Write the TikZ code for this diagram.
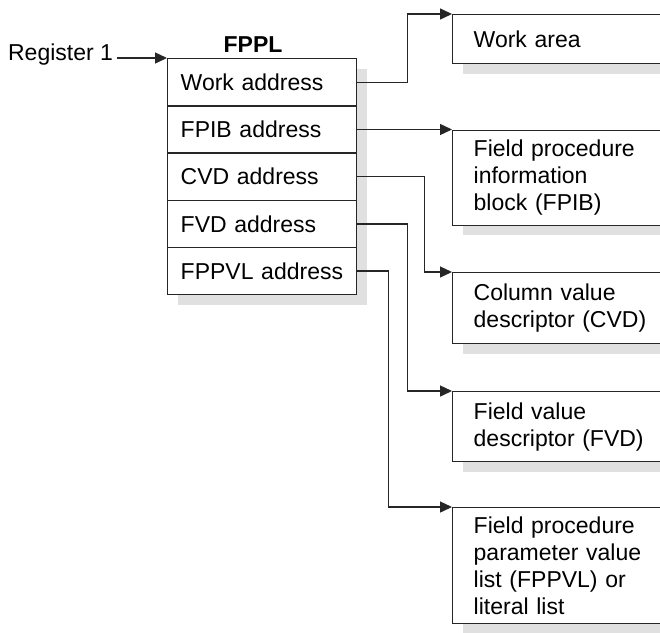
\documentclass[tikz,border=0pt]{standalone}
\usepackage{fontspec}
\setmainfont{Liberation Sans}
\usetikzlibrary{arrows.meta,shadows}
\begin{document}
\begin{tikzpicture}[x=1pt,y=-1pt,
  font=\fontsize{23}{27}\selectfont,
  line width=1.4pt,
  lc/.style={draw=black!85},
  shad/.style={drop shadow={shadow xshift=10pt,shadow yshift=-10pt,fill=black!12,opacity=1}},
  rowbox/.style={lc,fill=white,shad,rectangle,anchor=north west,minimum width=189pt,minimum height=47.2pt,
    text width=163pt,inner xsep=13pt,inner ysep=0pt,align=left},
  rbox/.style={lc,fill=white,shad,rectangle,anchor=north west,minimum width=240pt,
    text width=198pt,inner xsep=21pt,inner ysep=0pt,align=left},
  arr/.style={lc,-{Triangle[length=12pt,width=11pt]}}]
\useasboundingbox (0,0) rectangle (660,632);
% FPPL
\node[font=\fontsize{23}{27}\selectfont\bfseries] (title) at (253,45) {FPPL};
\node[rowbox] (w) at (167,58) {Work address};
\node[rowbox] (f) at (167,105.2) {FPIB address};
\node[rowbox] (c) at (167,152.4) {CVD address};
\node[rowbox] (v) at (167,199.6) {FVD address};
\node[rowbox] (p) at (167,246.8) {FPPVL address};
\node[anchor=east] (reg) at (117,55) {Register 1};
\draw[arr] (reg.east |- w.north west) -- (w.north west);
% right boxes
\node[rbox,minimum height=49pt] (wa) at (452,14) {Work area};
\node[rbox,minimum height=95pt] (fpib) at (452,129.5) {Field procedure\\information\\block (FPIB)};
\node[rbox,minimum height=71pt] (cvd) at (452,272) {Column value\\descriptor (CVD)};
\node[rbox,minimum height=70pt] (fvd) at (452,391) {Field value\\descriptor (FVD)};
\node[rbox,minimum height=116pt] (fppvl) at (452,507) {Field procedure\\parameter value\\list (FPPVL) or\\literal list};
% connectors
\draw[arr] (w.east) -- ++(50,0) |- (wa.north west);
\draw[arr] (f.east) -- (f.east -| fpib.north west);
\draw[arr] (c.east) -- ++(67,0) |- (cvd.north west);
\draw[arr] (v.east) -- ++(50,0) |- (fvd.north west);
\draw[arr] (p.east) -- ++(31,0) |- (fppvl.north west);
\end{tikzpicture}
\end{document}
